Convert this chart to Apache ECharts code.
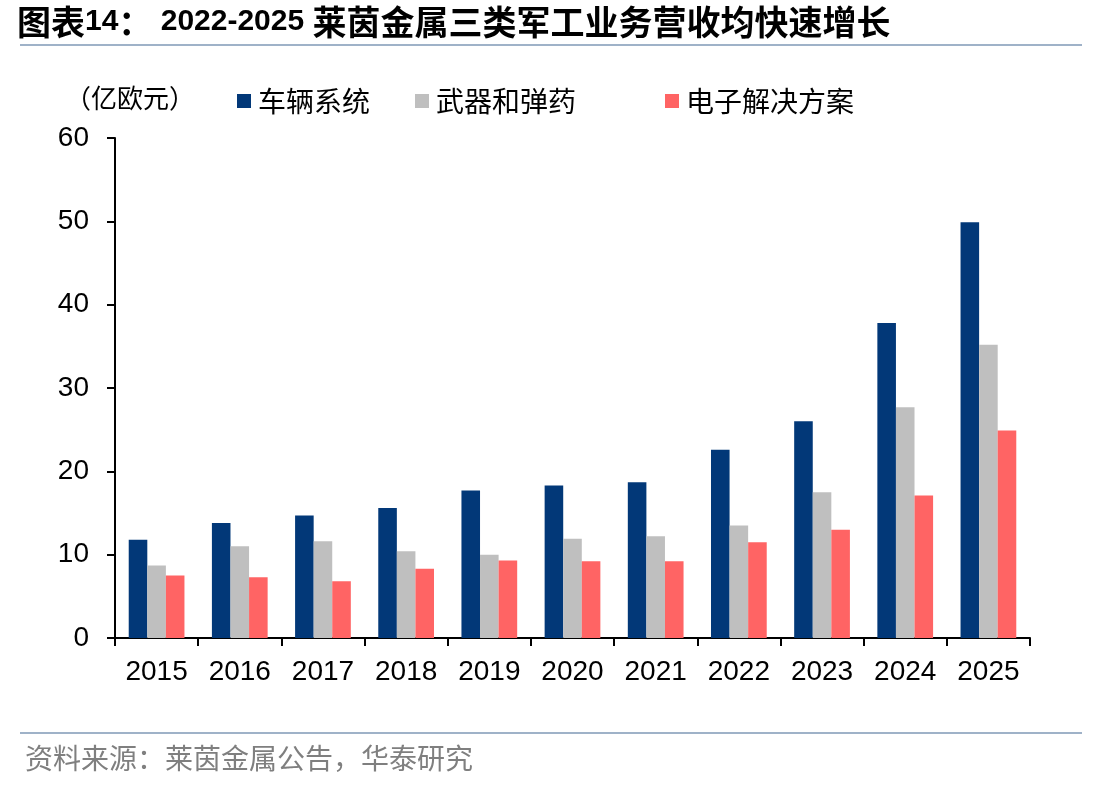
<!DOCTYPE html>
<html>
<head>
<meta charset="utf-8">
<script src="https://cdn.jsdelivr.net/npm/echarts@6/dist/echarts.min.js"></script>
<style>
  html, body { margin: 0; padding: 0; background: #fff; }
  #main { width: 1112px; height: 787px; }
</style>
</head>
<body>
<div id="main"></div>
<script>
// 年份
const years = ['2015', '2016', '2017', '2018', '2019', '2020', '2021', '2022', '2023', '2024', '2025'];
// 车辆系统（亿欧元）
const vehicle = [11.8, 13.8, 14.7, 15.6, 17.7, 18.3, 18.7, 22.6, 26.0, 37.8, 49.9];
// 武器和弹药
const weapon = [8.7, 11.0, 11.6, 10.4, 10.0, 11.9, 12.2, 13.5, 17.5, 27.7, 35.2];
// 电子解决方案
const electronic = [7.5, 7.3, 6.8, 8.3, 9.3, 9.2, 9.2, 11.5, 13.0, 17.1, 24.9];

const cjk = '"Noto Sans CJK SC", sans-serif';
const num = '"Liberation Sans", Arial, sans-serif';

let chart = echarts.init(document.getElementById('main'));

// 图例一项一个，方便定位
function legendAt(name, left) {
    return {
        data: [name],
        left: left,
        top: 82,
        icon: 'rect',
        itemWidth: 14,
        itemHeight: 14,
        itemGap: 0,
        selectedMode: false,
        textStyle: { fontFamily: cjk, fontSize: 28, color: '#000', padding: [0, 0, 0, 2] }
    };
}

chart.setOption({
    animation: false,
    color: ['#023878', '#bfbfbf', '#ff6464'],
    title: [
        {
            text: '{c|图表}{n|14}{c|：}{n| 2022-2025 }{c|莱茵金属三类军工业务营收均快速增长}',
            left: 12,
            top: 0,
            textStyle: {
                rich: {
                    c: { fontFamily: cjk, fontSize: 34, fontWeight: 'bold', color: '#000' },
                    n: { fontFamily: num, fontSize: 30, fontWeight: 'bold', color: '#000' }
                }
            }
        },
        {
            text: '（亿欧元）',
            left: 60,
            top: 80,
            textStyle: { fontFamily: cjk, fontSize: 26, fontWeight: 'normal', color: '#000' }
        },
        {
            text: '资料来源：莱茵金属公告，华泰研究',
            left: 20,
            top: 739,
            textStyle: { fontFamily: cjk, fontSize: 28, fontWeight: 'normal', color: '#7f7f7f' }
        }
    ],
    graphic: [
        { type: 'line', shape: { x1: 20, y1: 45, x2: 1082, y2: 45 }, style: { stroke: '#9fb2c8', lineWidth: 2 } },
        { type: 'line', shape: { x1: 20, y1: 733, x2: 1082, y2: 733 }, style: { stroke: '#9fb2c8', lineWidth: 2 } }
    ],
    legend: [
        legendAt('车辆系统', 232),
        legendAt('武器和弹药', 410),
        legendAt('电子解决方案', 660)
    ],
    grid: {
        left: 115,
        right: 82,
        top: 138,
        bottom: 149
    },
    xAxis: {
        type: 'category',
        data: years,
        axisLine: { lineStyle: { color: '#000', width: 2 } },
        axisTick: { show: true, length: 8, lineStyle: { color: '#000', width: 2 } },
        axisLabel: { fontFamily: num, fontSize: 28, color: '#000', margin: 20 }
    },
    yAxis: {
        type: 'value',
        min: 0,
        max: 60,
        interval: 10,
        splitLine: { show: false },
        axisLine: { show: true, lineStyle: { color: '#000', width: 2 } },
        axisTick: { show: true, length: 8, lineStyle: { color: '#000', width: 2 } },
        axisLabel: { fontFamily: num, fontSize: 28, color: '#000', margin: 26 }
    },
    series: [
        { name: '车辆系统', type: 'bar', data: vehicle, barGap: '0%', barCategoryGap: '33%' },
        { name: '武器和弹药', type: 'bar', data: weapon, barGap: '0%', barCategoryGap: '33%' },
        { name: '电子解决方案', type: 'bar', data: electronic, barGap: '0%', barCategoryGap: '33%' }
    ]
});
</script>
</body>
</html>
